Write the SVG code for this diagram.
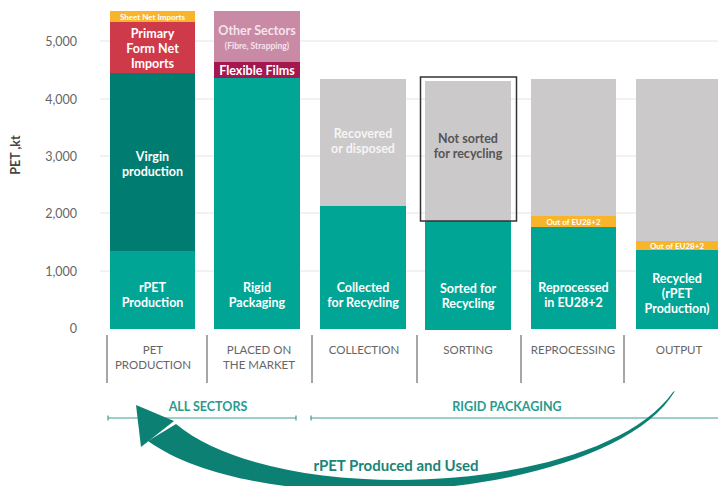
<svg xmlns="http://www.w3.org/2000/svg" width="718" height="486" viewBox="0 0 718 486">
<style>
text{font-family:Lato,"Open Sans","Liberation Sans",sans-serif}
.grid{stroke:#e4e4e4;stroke-width:1}
.yl{font-size:12.5px;fill:#666;text-anchor:end}
.bl{font-size:12.5px;fill:#fff;font-weight:700;text-anchor:middle}
.sm{font-size:8px;fill:#fff;font-weight:700;text-anchor:middle}
.cat{font-size:11.5px;fill:#666;text-anchor:middle}
.sep{stroke:#888;stroke-width:1.5}
.teal{fill:#00a595}
.grey{fill:#cbc9ca}
.orange{fill:#f8b52c}
.sec{font-size:12.5px;fill:#2a9a8d;font-weight:700;text-anchor:middle}
.secline{stroke:#3a9f93;stroke-width:1.2}
</style>
<rect width="718" height="486" fill="#fff"/>
<g id="grid">
<line class="grid" x1="100" y1="41" x2="718" y2="41"/>
<line class="grid" x1="100" y1="99" x2="718" y2="99"/>
<line class="grid" x1="100" y1="156" x2="718" y2="156"/>
<line class="grid" x1="100" y1="213" x2="718" y2="213"/>
<line class="grid" x1="100" y1="271" x2="718" y2="271"/>
</g>
<g id="yaxis">
<text class="yl" x="77" y="45.5">5,000</text>
<text class="yl" x="77" y="103.5">4,000</text>
<text class="yl" x="77" y="160.5">3,000</text>
<text class="yl" x="77" y="217.5">2,000</text>
<text class="yl" x="77" y="275.5">1,000</text>
<text class="yl" x="77" y="332.5">0</text>
<text x="20" y="155" transform="rotate(-90 20 155)" style="font-size:12.5px;font-weight:700;fill:#444;text-anchor:middle">PET ,kt</text>
</g>
<g id="bar-pet-production">
<rect x="110" y="11" width="85" height="11" class="orange"/>
<rect x="110" y="22" width="85" height="51" fill="#cf3a4b"/>
<rect x="110" y="73" width="85" height="178" fill="#007c70"/>
<rect x="110" y="251" width="85" height="78" class="teal"/>
<text class="sm" x="152.5" y="19.5">Sheet Net Imports</text>
<text class="bl" x="152.5" y="37.5">Primary</text>
<text class="bl" x="152.5" y="52.5">Form Net</text>
<text class="bl" x="152.5" y="67.5">Imports</text>
<text class="bl" x="152.5" y="160.5">Virgin</text>
<text class="bl" x="152.5" y="175.5">production</text>
<text class="bl" x="152.5" y="291.5">rPET</text>
<text class="bl" x="152.5" y="306.5">Production</text>
</g>
<g id="bar-placed-on-market">
<rect x="214" y="11" width="86" height="51" fill="#c98aa6"/>
<rect x="214" y="62" width="86" height="16" fill="#a3184f"/>
<rect x="214" y="78" width="86" height="251" class="teal"/>
<text class="bl" x="257" y="34.5" style="fill:#f6e3ec">Other Sectors</text>
<text class="sm" x="257" y="49" style="font-size:8.5px;fill:#f6e3ec">(Fibre, Strapping)</text>
<text class="bl" x="257" y="74.5">Flexible Films</text>
<text class="bl" x="257" y="291.5">Rigid</text>
<text class="bl" x="257" y="306.5">Packaging</text>
</g>
<g id="bar-collection">
<rect x="320" y="79" width="86" height="127" class="grey"/>
<rect x="320" y="206" width="86" height="123" class="teal"/>
<text class="bl" x="363" y="137.5" style="fill:#f5f5f5">Recovered</text>
<text class="bl" x="363" y="152.5" style="fill:#f5f5f5">or disposed</text>
<text class="bl" x="363" y="291.5">Collected</text>
<text class="bl" x="363" y="306.5">for Recycling</text>
</g>
<g id="bar-sorting">
<rect x="425" y="81" width="86" height="140" class="grey"/>
<rect x="425" y="221" width="86" height="109" class="teal"/>
<rect x="420.5" y="77" width="96" height="144" fill="none" stroke="#333" stroke-width="1.5"/>
<text class="bl" x="468" y="142.5" style="fill:#555">Not sorted</text>
<text class="bl" x="468" y="157.5" style="fill:#555">for recycling</text>
<text class="bl" x="468" y="292.5">Sorted for</text>
<text class="bl" x="468" y="307.5">Recycling</text>
</g>
<g id="bar-reprocessing">
<rect x="531" y="79" width="85" height="137" class="grey"/>
<rect x="531" y="216" width="85" height="11" class="orange"/>
<rect x="531" y="227" width="85" height="102" class="teal"/>
<text class="sm" x="573.5" y="224.5">Out of EU28+2</text>
<text class="bl" x="573.5" y="291.5">Reprocessed</text>
<text class="bl" x="573.5" y="306.5">in EU28+2</text>
</g>
<g id="bar-output">
<rect x="636" y="79" width="82" height="162" class="grey"/>
<rect x="636" y="241" width="82" height="9" class="orange"/>
<rect x="636" y="250" width="82" height="79" class="teal"/>
<text class="sm" x="677" y="248.5">Out of EU28+2</text>
<text class="bl" x="677" y="282.5">Recycled</text>
<text class="bl" x="677" y="297.5">(rPET</text>
<text class="bl" x="677" y="312.5">Production)</text>
</g>
<g id="categories">
<line class="sep" x1="107" y1="335" x2="107" y2="383"/>
<line class="sep" x1="207" y1="335" x2="207" y2="383"/>
<line class="sep" x1="312" y1="335" x2="312" y2="383"/>
<line class="sep" x1="417" y1="335" x2="417" y2="383"/>
<line class="sep" x1="521" y1="335" x2="521" y2="383"/>
<line class="sep" x1="624" y1="335" x2="624" y2="383"/>
<text class="cat" x="153" y="353.5">PET</text>
<text class="cat" x="153" y="368.5">PRODUCTION</text>
<text class="cat" x="259" y="353.5">PLACED ON</text>
<text class="cat" x="259" y="368.5">THE MARKET</text>
<text class="cat" x="364" y="353.5">COLLECTION</text>
<text class="cat" x="468" y="353.5">SORTING</text>
<text class="cat" x="573" y="353.5">REPROCESSING</text>
<text class="cat" x="679" y="353.5">OUTPUT</text>
</g>
<g id="sectors">
<line class="secline" x1="108" y1="418" x2="296" y2="418"/>
<line class="secline" x1="108" y1="415.5" x2="108" y2="420.5"/>
<line class="secline" x1="296" y1="415.5" x2="296" y2="420.5"/>
<text class="sec" x="208" y="411">ALL SECTORS</text>
<line class="secline" x1="311" y1="418" x2="718" y2="418"/>
<line class="secline" x1="311" y1="415.5" x2="311" y2="420.5"/>
<text class="sec" x="507" y="411">RIGID PACKAGING</text>
</g>
<g id="connectors">
<path d="M176,424 C280,510 600,495 673,392 L675,391 C610,500 265,525 148,441 Z" fill="#0d8074"/>
<polygon points="136,405 141,447 174,421" fill="#0d8074"/>
<text x="396" y="471" style="font-size:15px;font-weight:700;fill:#1b8478;text-anchor:middle">rPET Produced and Used</text>
</g>
</svg>
